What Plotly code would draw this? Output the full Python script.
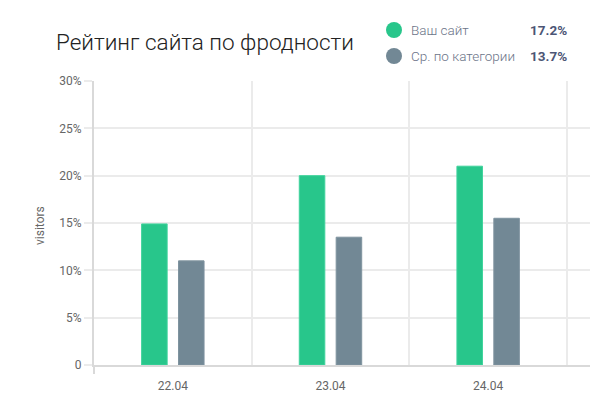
import plotly.graph_objects as go

categories = ["22.04", "23.04", "24.04"]
site_values = [14.9, 20.0, 21.0]
category_values = [11.0, 13.5, 15.5]
series_names = ["Ваш сайт", "Ср. по категории"]
series_totals = ["17.2%", "13.7%"]
y_ticks = [0, 5, 10, 15, 20, 25, 30]
y_tick_labels = ["0", "5%", "10%", "15%", "20%", "25%", "30%"]

GREEN = "#28c68b"
GREY = "#728895"
FONT = "Roboto"

x_idx = list(range(len(categories)))
bar_w = 0.162

fig = go.Figure()
fig.add_trace(go.Bar(x=x_idx, y=site_values, name=series_names[0],
                     marker=dict(color=GREEN, line=dict(color="#3fd39c", width=1)),
                     width=bar_w, offset=-0.117 - bar_w / 2,
                     hoverinfo="y"))
fig.add_trace(go.Bar(x=x_idx, y=category_values, name=series_names[1],
                     marker=dict(color=GREY, line=dict(color="#7f939f", width=1)),
                     width=bar_w, offset=0.117 - bar_w / 2,
                     hoverinfo="y"))

L, T, B, R = 94, 81, 35, 0
W, H = 590, 400
pw, ph = W - L - R, H - T - B

def px(xp):
    return (xp - L) / pw

def py(yp):
    return (H - B - yp) / ph

fig.update_layout(
    width=W, height=H,
    margin=dict(l=L, r=R, t=T, b=B, pad=0),
    paper_bgcolor="white", plot_bgcolor="white",
    showlegend=False, barmode="overlay",
    font=dict(family=FONT, size=12, color="#666666"),
    title=dict(text="Рейтинг сайта по фродности", x=56 / W, xanchor="left",
               y=1 - 42 / H, yanchor="middle", xref="container", yref="container",
               font=dict(family=FONT, size=22.5, color="#222222", weight=300)),
)

fig.update_xaxes(
    range=[-0.5, 2.646], tickmode="array", tickvals=x_idx, ticktext=categories,
    showgrid=False, zeroline=False, showline=True, linecolor="#d9d9d9", linewidth=2,
    ticks="", ticklabelstandoff=9, tickfont=dict(size=12, color="#666666"),
    minor=dict(tickmode="array", tickvals=[0.5, 1.5, 2.5], showgrid=True,
               gridcolor="#ebebeb", gridwidth=1.5, ticks=""),
    fixedrange=True,
)
fig.update_yaxes(
    range=[0, 30], tickmode="array", tickvals=y_ticks, ticktext=y_tick_labels,
    showgrid=True, gridcolor="#ebebeb", gridwidth=1.5, zeroline=False,
    showline=True, linecolor="#d9d9d9", linewidth=2,
    ticks="outside", ticklen=8, tickcolor="#ebebeb", tickwidth=1.5,
    tickfont=dict(size=12, color="#666666"), fixedrange=True,
)

# y-axis line extension below the x-axis
fig.add_shape(type="line", xref="paper", yref="paper", x0=0, x1=0,
              y0=py(374), y1=0, line=dict(color="#d9d9d9", width=2))

# y-axis title
fig.add_annotation(text="visitors", xref="paper", yref="paper", x=px(40), y=py(226),
                   xanchor="center", yanchor="middle", textangle=-90, showarrow=False,
                   font=dict(family=FONT, size=12, color="#666666"))

# custom legend
rows_y = [30, 56]
colors = [GREEN, GREY]
for name, total, ry, c in zip(series_names, series_totals, rows_y, colors):
    fig.add_shape(type="circle", xref="paper", yref="paper",
                  xsizemode="pixel", ysizemode="pixel",
                  xanchor=px(394), yanchor=py(ry), x0=-8, x1=8, y0=-8, y1=8,
                  fillcolor=c, line=dict(width=0))
    fig.add_annotation(text=name, xref="paper", yref="paper", x=px(409), y=py(ry),
                       xanchor="left", yanchor="middle", showarrow=False,
                       font=dict(family=FONT, size=13.5, color="#6b7488", weight=300))
    fig.add_annotation(text="<b>" + total + "</b>", xref="paper", yref="paper",
                       x=px(569), y=py(ry), xanchor="right", yanchor="middle",
                       showarrow=False,
                       font=dict(family=FONT, size=13.5, color="#4c5575"))

fig.write_html("out.html", config={"displayModeBar": False})
